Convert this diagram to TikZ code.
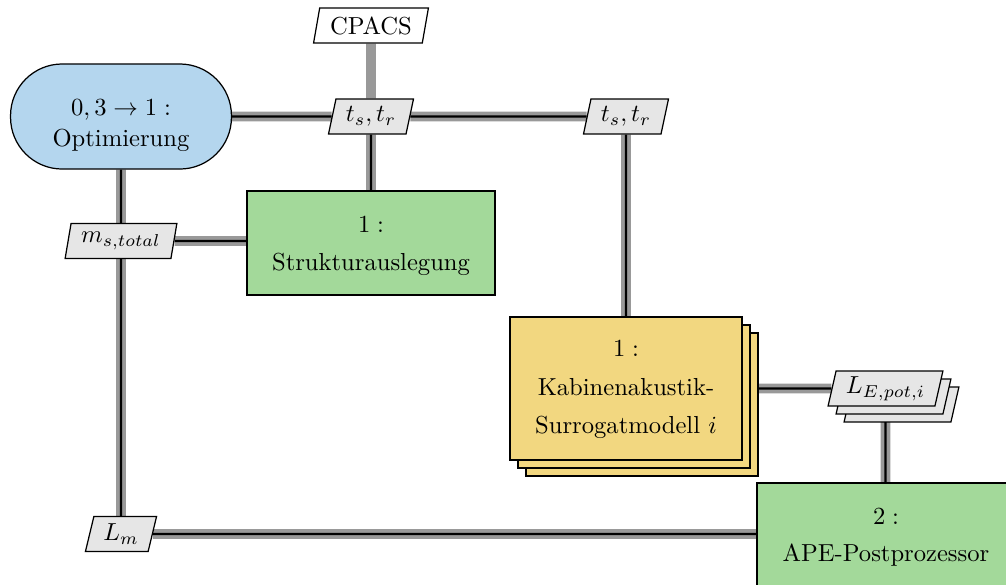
\documentclass[tikz,border=0pt]{standalone}
\usetikzlibrary{shapes.geometric}
\pgfdeclarelayer{bg}
\pgfsetlayers{bg,main}
\definecolor{optblue}{RGB}{180,214,238}
\definecolor{fungreen}{RGB}{163,217,154}
\definecolor{surryellow}{RGB}{242,215,128}
\definecolor{datagray}{RGB}{230,230,230}
\begin{document}
\begin{tikzpicture}[x=0.4065pt,y=-0.4065pt,
  optbox/.style={draw=black, line width=0.5pt, fill=optblue, rounded corners=21pt,
    minimum width=89.8pt, minimum height=42.7pt, align=center, inner sep=0pt},
  funbox/.style={draw=black, line width=0.5pt, fill=fungreen, align=center, inner sep=0pt,
    minimum height=42.3pt},
  surrbox/.style={draw=black, line width=0.5pt, fill=surryellow, align=center, inner sep=0pt,
    minimum width=94.3pt, minimum height=58.1pt},
  databox/.style={trapezium, trapezium left angle=75, trapezium right angle=105,
    trapezium stretches=true, draw=black, line width=0.5pt, fill=datagray,
    minimum height=14.2pt, inner sep=0pt},
  dataline/.style={draw=black, line width=1pt, preaction={draw=black!40, line width=3.9pt}},
  inputline/.style={draw=black!40, line width=3.9pt}
]
\useasboundingbox (0,0) rectangle (1006,584);
\node[databox, fill=white, minimum width=46.7pt] (cpacs) at (371,25.5) {CPACS};
\node[optbox] (opt) at (121,116.5) {\rule{0pt}{13.5pt}$0,3 \rightarrow 1:$\\[0.6pt]Optimierung};
\node[databox, minimum width=34.6pt] (ts1) at (371,116.5) {$t_s,t_r$};
\node[databox, minimum width=34.6pt] (ts2) at (626,116.5) {$t_s,t_r$};
\node[funbox, minimum width=100.8pt] (str) at (371,243) {\rule{0pt}{8.9pt}$1:$\\[3.3pt]Strukturauslegung};
\node[databox, minimum width=45.5pt] (ms) at (121,241) {$m_{s,total}$};
\node[surrbox] (kab3) at (642,404.5) {};
\node[surrbox] (kab2) at (634,396.5) {};
\node[surrbox] (kab) at (626,388.5) {\rule{0pt}{7.6pt}$1:$\\[3.6pt]Kabinenakustik-\\[3.6pt]Surrogatmodell $i$};
\node[databox, minimum width=46.7pt] (le3) at (901.5,404.5) {\phantom{$L_{E,pot,i}$}};
\node[databox, minimum width=46.7pt] (le2) at (893.5,396.5) {\phantom{$L_{E,pot,i}$}};
\node[databox, minimum width=46.7pt] (le) at (885.5,388.5) {$L_{E,pot,i}$};
\node[databox, minimum width=28.9pt] (lm) at (121,534) {$L_m$};
\node[funbox, minimum width=104.9pt] (ape) at (886,535) {\rule{0pt}{8.4pt}$2:$\\[3pt]APE-Postprozessor};
\begin{pgfonlayer}{bg}
\draw[inputline] (cpacs) -- (ts1);
\draw[dataline] (opt) -- (ts1);
\draw[dataline] (ts1) -- (ts2);
\draw[dataline] (ts1) -- (str);
\draw[dataline] (ts2) -- (kab);
\draw[dataline] (opt) -- (ms);
\draw[dataline] (ms) -- (ms -| str);
\draw[dataline] (ms) -- (lm);
\draw[dataline] (lm) -- (lm -| ape);
\draw[dataline] (kab) -- (le);
\draw[dataline] (le) -- (le |- ape);
\end{pgfonlayer}
\end{tikzpicture}
\end{document}
